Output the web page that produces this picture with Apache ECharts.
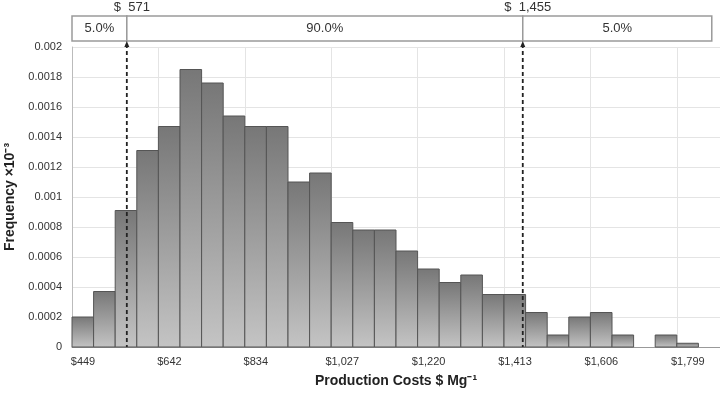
<!DOCTYPE html>
<html>
<head>
<meta charset="utf-8">
<script src="https://cdn.jsdelivr.net/npm/echarts@6/dist/echarts.min.js"></script>
<style>
  * { margin: 0; padding: 0; }
  body { background: #fff; }
  #chart { width: 720px; height: 399px; }
</style>
</head>
<body>
<div id="chart"></div>
<script>
// histogram bins: first bin starts at binStart, each bin is binWidth dollars wide
var binStart = 448.6;
var binWidth = 48.225;
var freq = [0.0002, 0.00037, 0.00091, 0.00131, 0.00147, 0.00185, 0.00176, 0.00154,
            0.00147, 0.00147, 0.00110, 0.00116, 0.00083, 0.00078, 0.00078, 0.00064,
            0.00052, 0.00043, 0.00048, 0.00035, 0.00035, 0.00023, 0.00008, 0.0002,
            0.00023, 0.00008, 0, 0.00008, 0.000025];
var xTickLabels = ['$449', '$642', '$834', '$1,027', '$1,220', '$1,413', '$1,606', '$1,799'];
var cutoffs = [571, 1455];
var cutoffLabels = ['$  571', '$  1,455'];
var bandEdges = [448.6, 571, 1455, 1877];
var bandLabels = ['5.0%', '90.0%', '5.0%'];

function toBin(d) { return (d - binStart) / binWidth; }

var chart = echarts.init(document.getElementById('chart'));
var font = 'Liberation Sans, Arial, sans-serif';

var histData = [];
freq.forEach(function (v, i) { if (v > 0) histData.push([i, i + 1, v]); });

var bandData = bandLabels.map(function (t, i) {
  return [toBin(bandEdges[i]), toBin(bandEdges[i + 1])];
});
var cutData = cutoffs.map(function (c) { return [toBin(c)]; });

var option = {
  animation: false,
  grid: [
    { left: 72, right: 0, top: 47, bottom: 52, outerBoundsMode: 'none' },
    { left: 72, right: 0, top: 16, height: 25, outerBoundsMode: 'none' }
  ],
  xAxis: [{
    type: 'value', gridIndex: 0, min: 0, max: 30, interval: 4,
    name: 'Production Costs $ Mg\u207B\u00B9',
    nameLocation: 'middle', nameGap: 27,
    nameTextStyle: { fontFamily: font, fontSize: 14, fontWeight: 'bold', color: '#222' },
    axisLine: { show: true, lineStyle: { color: '#999', width: 1 } },
    axisTick: { show: false },
    axisLabel: {
      fontFamily: font, fontSize: 11, color: '#333', margin: 9,
      padding: [0, 0, 0, 22],
      formatter: function (v) { return xTickLabels[v / 4] || ''; }
    },
    splitLine: { show: true, lineStyle: { color: '#e4e4e4', width: 1 } }
  }, {
    type: 'value', gridIndex: 1, min: 0, max: 30, show: false
  }],
  yAxis: [{
    type: 'value', gridIndex: 0, min: 0, max: 0.002, interval: 0.0002,
    name: 'Frequency \u00D710\u207B\u00B3',
    nameLocation: 'middle', nameGap: 54,
    nameTextStyle: { fontFamily: font, fontSize: 14, fontWeight: 'bold', color: '#222' },
    axisLine: { show: true, lineStyle: { color: '#bbb', width: 1 } },
    axisTick: { show: false },
    axisLabel: {
      fontFamily: font, fontSize: 11, color: '#333', margin: 10,
      formatter: function (v) { return String(parseFloat(v.toFixed(4))); }
    },
    splitLine: { show: true, lineStyle: { color: '#e4e4e4', width: 1 } }
  }, {
    type: 'value', gridIndex: 1, min: 0, max: 1, show: false
  }],
  series: [{
    type: 'custom', name: 'freq', xAxisIndex: 0, yAxisIndex: 0,
    data: histData,
    encode: { x: [0, 1], y: 2 },
    renderItem: function (params, api) {
      var p0 = api.coord([api.value(0), api.value(2)]);
      var p1 = api.coord([api.value(1), 0]);
      return {
        type: 'rect',
        shape: { x: p0[0], y: p0[1], width: p1[0] - p0[0], height: p1[1] - p0[1] },
        style: {
          fill: new echarts.graphic.LinearGradient(0, 0, 0, 1, [
            { offset: 0, color: '#777' },
            { offset: 1, color: '#c4c4c4' }
          ]),
          stroke: '#555', lineWidth: 1
        }
      };
    }
  }, {
    // dashed cutoff lines
    type: 'custom', xAxisIndex: 0, yAxisIndex: 0, z: 5,
    data: cutData,
    encode: { x: 0 },
    renderItem: function (params, api) {
      var top = api.coord([api.value(0), 0.002]);
      var bot = api.coord([api.value(0), 0]);
      var x = top[0];
      return {
        type: 'group',
        children: [{
          type: 'line',
          shape: { x1: x, y1: top[1] - 3, x2: x, y2: bot[1] },
          style: { stroke: '#222', lineWidth: 1.8, lineDash: [4, 3] }
        }, {
          type: 'polygon',
          shape: { points: [[x, top[1] - 6], [x - 2.5, top[1]], [x + 2.5, top[1]]] },
          style: { fill: '#222' }
        }]
      };
    }
  }, {
    // percentile band on top
    type: 'custom', xAxisIndex: 1, yAxisIndex: 1,
    data: bandData,
    encode: { x: [0, 1] },
    renderItem: function (params, api) {
      var a = api.coord([api.value(0), 1]);
      var b = api.coord([api.value(1), 0]);
      return {
        type: 'group',
        children: [{
          type: 'rect',
          shape: { x: a[0], y: a[1], width: b[0] - a[0], height: b[1] - a[1] },
          style: { fill: '#fff', stroke: '#9a9a9a', lineWidth: 1.5 }
        }, {
          type: 'text',
          style: {
            x: (a[0] + b[0]) / 2, y: (a[1] + b[1]) / 2,
            text: bandLabels[params.dataIndex], align: 'center', verticalAlign: 'middle',
            fontFamily: font, fontSize: 13, fill: '#333'
          }
        }]
      };
    }
  }, {
    // cutoff value labels
    type: 'custom', xAxisIndex: 1, yAxisIndex: 1,
    data: cutData,
    encode: { x: 0 },
    renderItem: function (params, api) {
      var p = api.coord([api.value(0), 1]);
      return {
        type: 'text',
        style: {
          x: p[0] + 5, y: p[1] - 9,
          text: cutoffLabels[params.dataIndex], align: 'center', verticalAlign: 'middle',
          fontFamily: font, fontSize: 13, fill: '#333'
        }
      };
    }
  }]
};

chart.setOption(option);
</script>
</body>
</html>
